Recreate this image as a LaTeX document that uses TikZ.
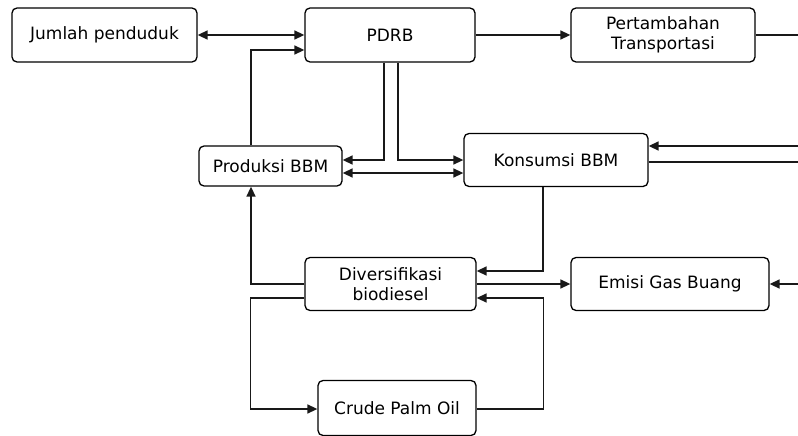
\documentclass[tikz,border=0pt]{standalone}
\usepackage{fontspec}
\setmainfont{DejaVu Sans}
\usetikzlibrary{arrows.meta}

\begin{document}
\begin{tikzpicture}[x=1pt,y=-1pt,
  box/.style={draw=black, line width=1.3pt, rounded corners=5pt, inner sep=0pt,
    align=center, font=\fontsize{17}{19.5}\selectfont},
  link/.style={line width=1.5pt, draw=black!90},
  >={Triangle[length=10pt,width=9pt]}]

  \useasboundingbox (0,0) rectangle (798,436);

  % boxes
  \node[box, minimum width=185pt, minimum height=54pt] (jp)   at (104.5,35)  {Jumlah penduduk};
  \node[box, minimum width=170pt, minimum height=54pt] (pdrb) at (390,35)    {PDRB};
  \node[box, minimum width=184pt, minimum height=54pt] (pt)   at (663,35)    {Pertambahan\\Transportasi};
  \node[box, minimum width=143pt, minimum height=40pt] (prod) at (270.5,166) {Produksi BBM};
  \node[box, minimum width=184pt, minimum height=53pt] (kons) at (556,160)   {Konsumsi BBM};
  \node[box, minimum width=171pt, minimum height=53pt] (div)  at (390.5,284) {Diversifikasi\\biodiesel};
  \node[box, minimum width=198pt, minimum height=53pt] (emi)  at (670,284)   {Emisi Gas Buang};
  \node[box, minimum width=158pt, minimum height=55pt] (cpo)  at (397,408)   {Crude Palm Oil};

  % loose ends at the right border
  \coordinate (r0) at (798,35);
  \coordinate (r1) at (798,146);
  \coordinate (r2) at (798,162);
  \coordinate (r3) at (798,284);

  % connectors (yshift is measured upwards)
  \draw[link,<->] (jp.east) -- (pdrb.west);
  \draw[link,->] (pdrb.east) -- (pt.west);
  \draw[link] (pt.east) -- (r0);
  \draw[link,->] ([xshift=-19.5pt]prod.north) |- ([yshift=-15pt]pdrb.west);
  \draw[link,->] ([xshift=-6pt]pdrb.south) |- ([yshift=6pt]prod.east);
  \draw[link,->] ([xshift=8pt]pdrb.south) |- (kons.west);
  \draw[link,<->] ([yshift=-7pt]prod.east) -- ([yshift=-7pt]prod.east -| kons.west);
  \draw[link,->] (r1) -- (r1 -| kons.east);
  \draw[link] (r2 -| kons.east) -- (r2);
  \draw[link,->] ([xshift=-13pt]kons.south) |- ([yshift=13pt]div.east);
  \draw[link,->] (div.east) -- (emi.west);
  \draw[link,->] (r3) -- (emi.east);
  \draw[link,->] (div.west) -| ([xshift=-19.5pt]prod.south);
  \draw[link,->] ([yshift=-14pt]div.west) -- ++(-54pt,0) |- ([yshift=-1pt]cpo.west);
  \draw[link,->] ([yshift=-1pt]cpo.east) -- ++(67pt,0) |- ([yshift=-14pt]div.east);
\end{tikzpicture}
\end{document}
